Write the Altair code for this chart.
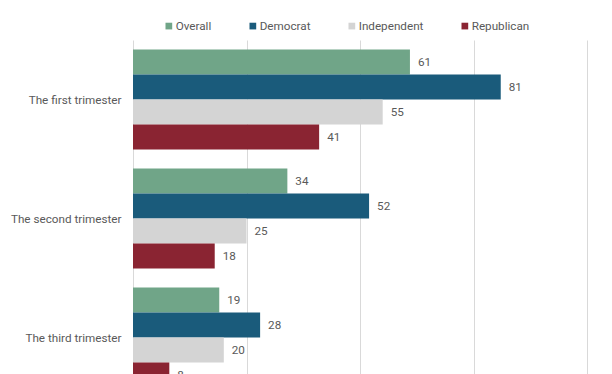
import altair as alt
import pandas as pd

categories = ["The first trimester", "The second trimester", "The third trimester"]
series = ["Overall", "Democrat", "Independent", "Republican"]
overall = [61, 34, 19]
democrat = [81, 52, 28]
independent = [55, 25, 20]
republican = [41, 18, 8]
colors = ["#70a588", "#1a5b7b", "#d4d4d4", "#8a2432"]

rows = []
for i, c in enumerate(categories):
    for s, vals in zip(series, [overall, democrat, independent, republican]):
        rows.append({"category": c, "series": s, "value": vals[i]})
df = pd.DataFrame(rows)

FONT = "Roboto"
GRAY = "#595959"
FS = 11.7

y = alt.Y("category:N", sort=categories, title=None,
          scale=alt.Scale(paddingInner=0.16, paddingOuter=0.08),
          axis=alt.Axis(labelFont=FONT, labelFontSize=FS, labelColor=GRAY,
                        labelPadding=12, ticks=False, domain=False, labelLimit=200))
yoff = alt.YOffset("series:N", sort=series, scale=alt.Scale(paddingInner=0, paddingOuter=0))
x = alt.X("value:Q", title=None,
          scale=alt.Scale(domain=[0, 100]),
          axis=alt.Axis(values=[0, 25, 50, 75, 100], gridColor="#d9d9d9", gridWidth=1,
                        domain=False, ticks=False, labelFont=FONT, labelFontSize=FS,
                        labelColor=GRAY))

bars = alt.Chart(df).mark_bar().encode(
    x=x, y=y, yOffset=yoff,
    color=alt.Color("series:N", sort=series,
                    scale=alt.Scale(domain=series, range=colors),
                    legend=alt.Legend(title=None, orient="none", legendX=30, legendY=-20,
                                      direction="horizontal", symbolType="square",
                                      symbolSize=45, symbolStrokeWidth=0,
                                      labelFont=FONT, labelFontSize=FS, labelColor=GRAY,
                                      columnPadding=35, labelOffset=1)),
)

labels = alt.Chart(df).mark_text(align="left", baseline="middle", dx=8,
                                 font=FONT, fontSize=FS, color=GRAY).encode(
    x="value:Q", y=alt.Y("category:N", sort=categories), yOffset=alt.YOffset("series:N", sort=series),
    text="value:Q",
)

chart = alt.layer(bars, labels).properties(
    width=454, height=357,
    padding={"left": 125, "top": 32, "right": 17, "bottom": 30},
    autosize=alt.AutoSizeParams(type="none"),
).configure_view(stroke=None)

chart.save("out.html", embed_options={"renderer": "svg", "actions": False})
